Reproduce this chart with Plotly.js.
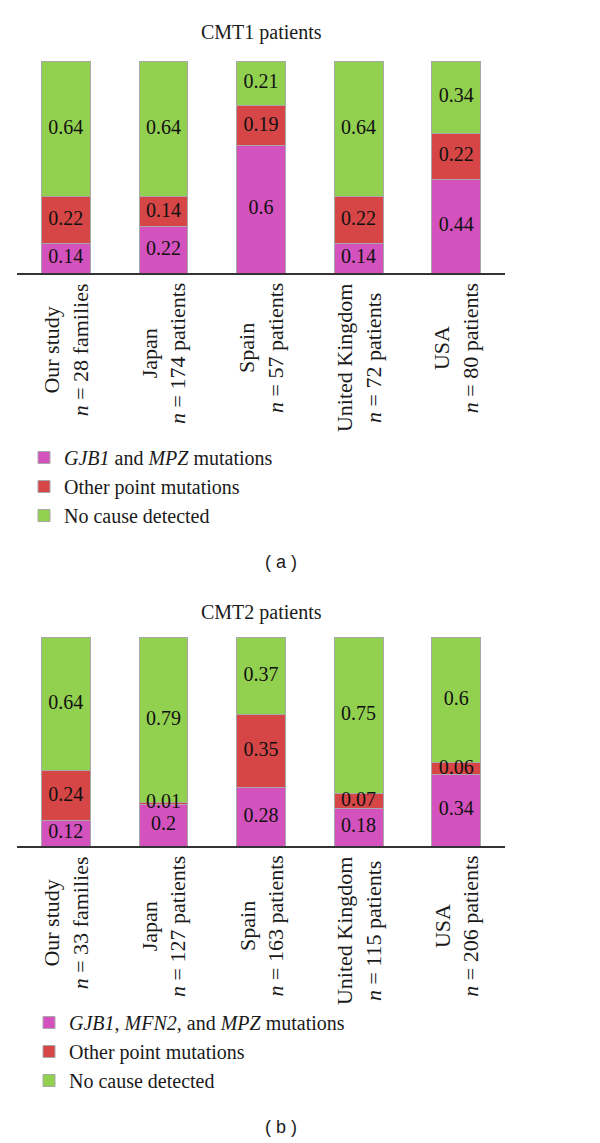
<!DOCTYPE html>
<html>
<head>
<meta charset="utf-8">
<script src="https://cdn.plot.ly/plotly-3.0.1.min.js"></script>
<style>html,body{margin:0;padding:0;background:#fff;}#chart{width:600px;height:1143px;}</style>
</head>
<body>
<div id="chart"></div>
<script>
// Tick labels (categories)
const cmt1Labels = [
  "Our study<br><i>n</i> = 28 families",
  "Japan<br><i>n</i> = 174 patients",
  "Spain<br><i>n</i> = 57 patients",
  "United Kingdom<br><i>n</i> = 72 patients",
  "USA<br><i>n</i> = 80 patients"
];
const cmt2Labels = [
  "Our study<br><i>n</i> = 33 families",
  "Japan<br><i>n</i> = 127 patients",
  "Spain<br><i>n</i> = 163 patients",
  "United Kingdom<br><i>n</i> = 115 patients",
  "USA<br><i>n</i> = 206 patients"
];
// CMT1 series
const cmt1Known = [0.14, 0.22, 0.6, 0.14, 0.44];
const cmt1Other = [0.22, 0.14, 0.19, 0.22, 0.22];
const cmt1None  = [0.64, 0.64, 0.21, 0.64, 0.34];
// CMT2 series
const cmt2Known = [0.12, 0.2, 0.28, 0.18, 0.34];
const cmt2Other = [0.24, 0.01, 0.35, 0.07, 0.06];
const cmt2None  = [0.64, 0.79, 0.37, 0.75, 0.6];
// Series names
const cmt1Names = ["<i>GJB1</i> and <i>MPZ</i> mutations", "Other point mutations", "No cause detected"];
const cmt2Names = ["<i>GJB1</i>, <i>MFN2,</i> and <i>MPZ</i> mutations", "Other point mutations", "No cause detected"];
const colors = ["#D452BE", "#D64646", "#92D050"];

const SERIF = "Liberation Serif, Times New Roman, serif";
const INK = "#1a1a1a";

function bar(x, y, name, color, xa, ya, leg) {
  return {
    type: "bar", x: x, y: y, name: name, xaxis: xa, yaxis: ya, legend: leg,
    marker: {color: color, line: {color: "#a8a8a8", width: 1}},
    hoverinfo: "skip"
  };
}

// value labels drawn on top of all bars, positioned at the middle of each stacked segment
function labels(cats, series, xa, ya) {
  const xs = [], ys = [], ts = [];
  cats.forEach((c, i) => {
    let base = 0;
    series.forEach(s => {
      xs.push(c); ys.push(base + s[i] / 2); ts.push(String(s[i]));
      base += s[i];
    });
  });
  return {
    type: "scatter", mode: "text", x: xs, y: ys, text: ts, xaxis: xa, yaxis: ya,
    textposition: "middle center", cliponaxis: false, showlegend: false, hoverinfo: "skip",
    textfont: {family: SERIF, size: 20, color: "#111"}
  };
}

const data = [
  bar(cmt1Labels, cmt1Known, cmt1Names[0], colors[0], "x", "y", "legend"),
  bar(cmt1Labels, cmt1Other, cmt1Names[1], colors[1], "x", "y", "legend"),
  bar(cmt1Labels, cmt1None,  cmt1Names[2], colors[2], "x", "y", "legend"),
  bar(cmt2Labels, cmt2Known, cmt2Names[0], colors[0], "x2", "y2", "legend2"),
  bar(cmt2Labels, cmt2Other, cmt2Names[1], colors[1], "x2", "y2", "legend2"),
  bar(cmt2Labels, cmt2None,  cmt2Names[2], colors[2], "x2", "y2", "legend2"),
  labels(cmt1Labels, [cmt1Known, cmt1Other, cmt1None], "x", "y"),
  labels(cmt2Labels, [cmt2Known, cmt2Other, cmt2None], "x2", "y2")
];

const H = 1143;
const py = p => 1 - p / H;

const xax = {
  domain: [0, 1], showline: true, linecolor: "#333", linewidth: 2,
  ticks: "", showticklabels: false, showgrid: false, zeroline: false, fixedrange: true
};
const yax = {range: [0, 1], showticklabels: false, showgrid: false, zeroline: false, showline: false, ticks: "", fixedrange: true};

const legendBase = {
  orientation: "v", traceorder: "normal", xanchor: "left", yanchor: "top",
  font: {family: SERIF, size: 20, color: INK}, bgcolor: "rgba(0,0,0,0)",
  itemclick: false, itemdoubleclick: false
};

// rotated category labels, lines centred on each other (as in the reference)
function catLabels(cats, xref, topPx) {
  return cats.map(c => ({
    text: c, xref: xref, yref: "paper", x: c, y: py(topPx), showarrow: false,
    textangle: -90, align: "center", xanchor: "center", yanchor: "top",
    font: {family: SERIF, size: 22, color: INK}
  }));
}

const layout = {
  width: 600, height: H,
  margin: {l: 17, r: 95, t: 0, b: 0, pad: 0},
  paper_bgcolor: "#fff", plot_bgcolor: "#fff",
  barmode: "stack", bargap: 0.5,
  showlegend: true,
  xaxis: Object.assign({}, xax, {anchor: "y"}),
  yaxis: Object.assign({}, yax, {domain: [py(273), py(61)], anchor: "x"}),
  xaxis2: Object.assign({}, xax, {anchor: "y2"}),
  yaxis2: Object.assign({}, yax, {domain: [py(846), py(637)], anchor: "x2"}),
  legend: Object.assign({}, legendBase, {x: (24 - 17) / 488, y: py(438)}),
  legend2: Object.assign({}, legendBase, {x: (29 - 17) / 488, y: py(1003)}),
  annotations: [
    {text: "CMT1 patients", xref: "paper", yref: "paper", x: 0.501, y: py(33), showarrow: false,
     font: {family: SERIF, size: 20, color: INK}, xanchor: "center", yanchor: "middle"},
    {text: "CMT2 patients", xref: "paper", yref: "paper", x: 0.5, y: py(612), showarrow: false,
     font: {family: SERIF, size: 20, color: INK}, xanchor: "center", yanchor: "middle"},
    {text: "( a )", xref: "paper", yref: "paper", x: 0.541, y: py(562), showarrow: false,
     font: {family: "Liberation Sans, Arial, sans-serif", size: 18, color: INK}, xanchor: "center", yanchor: "middle"},
    {text: "( b )", xref: "paper", yref: "paper", x: 0.541, y: py(1127), showarrow: false,
     font: {family: "Liberation Sans, Arial, sans-serif", size: 18, color: INK}, xanchor: "center", yanchor: "middle"}
  ].concat(catLabels(cmt1Labels, "x", 281), catLabels(cmt2Labels, "x2", 854))
};

Plotly.newPlot("chart", data, layout, {staticPlot: true, displayModeBar: false});
</script>
</body>
</html>
